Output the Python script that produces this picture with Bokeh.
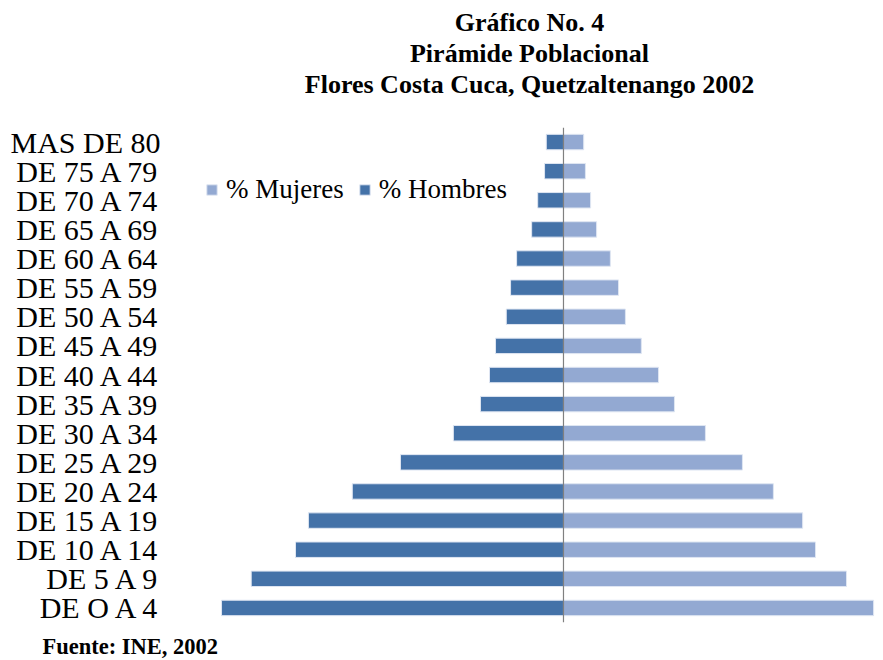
from bokeh.plotting import figure
from bokeh.models import FactorRange, Range1d, Span, Legend, LegendItem, ColumnDataSource, Title
from bokeh.embed import file_html
from bokeh.resources import INLINE

categories = ["MAS DE 80", "DE 75 A 79", "DE 70 A 74", "DE 65 A 69", "DE 60 A 64",
              "DE 55 A 59", "DE 50 A 54", "DE 45 A 49", "DE 40 A 44", "DE 35 A 39",
              "DE 30 A 34", "DE 25 A 29", "DE 20 A 24", "DE 15 A 19", "DE 10 A 14",
              "DE 5 A 9", "DE O A 4"]
hombres = [0.40, 0.44, 0.60, 0.74, 1.09, 1.23, 1.33, 1.58, 1.72, 1.93,
           2.56, 3.79, 4.91, 5.93, 6.23, 7.26, 7.95]
mujeres = [0.47, 0.51, 0.63, 0.77, 1.09, 1.28, 1.44, 1.81, 2.21, 2.58,
           3.30, 4.16, 4.88, 5.56, 5.86, 6.58, 7.21]
title_lines = ["Gráfico No. 4", "Pirámide Poblacional", "Flores Costa Cuca, Quetzaltenango 2002"]
source_text = "Fuente: INE, 2002"

FONT = "Liberation Serif"
C_H = "#4472a8"
C_M = "#93a9d2"

src = ColumnDataSource(dict(cat=categories, h=[-v for v in hombres], m=mujeres))

p = figure(width=883, height=660, output_backend="svg", toolbar_location=None,
           y_range=FactorRange(*categories[::-1], range_padding=0),
           x_range=Range1d(-9.02, 7.44),
           min_border_left=175, min_border_right=0, min_border_top=127, min_border_bottom=37)
p.outline_line_color = None
p.grid.visible = False
p.xaxis.visible = False
p.background_fill_color = None
p.border_fill_color = "white"

rm = p.hbar(y="cat", left=0, right="m", height=0.53, source=src, fill_color=C_M,
            line_color="#dfe6f2", line_width=1)
rh = p.hbar(y="cat", left="h", right=0, height=0.53, source=src, fill_color=C_H,
            line_color="#dfe6f2", line_width=1)

p.add_layout(Span(location=0, dimension="height", line_color="#808080", line_width=1.2))

yax = p.yaxis[0]
yax.axis_line_color = None
yax.major_tick_line_color = None
yax.minor_tick_line_color = None
yax.major_tick_out = 0
yax.major_label_standoff = 15
yax.major_label_text_font = FONT
yax.major_label_text_font_size = "30px"
yax.major_label_text_color = "black"

legend = Legend(items=[LegendItem(label="% Mujeres", renderers=[rm]),
                       LegendItem(label="% Hombres", renderers=[rh])],
                orientation="horizontal", location=(30, 417), padding=0, margin=0,
                spacing=14, glyph_width=13, glyph_height=13, label_standoff=8,
                label_text_font=FONT, label_text_font_size="27px", label_text_color="black",
                border_line_color=None, background_fill_alpha=0)
p.add_layout(legend, "center")

# spacer between the title block and the plot area
p.add_layout(Title(text=" ", text_font=FONT, text_font_size="25px", standoff=0), "above")
for t in reversed(title_lines):
    p.add_layout(Title(text=t, align="center", offset=-81, text_font=FONT,
                       text_font_style="bold", text_font_size="26px", text_color="black",
                       standoff=0), "above")

p.add_layout(Title(text=source_text, align="left", offset=-133, text_font=FONT,
                   text_font_style="bold", text_font_size="22.5px", text_color="black",
                   vertical_align="top", standoff=0,
                   padding=dict(left=0, right=0, top=11, bottom=0)), "below")

open("out.html", "w").write(file_html(p, INLINE))
